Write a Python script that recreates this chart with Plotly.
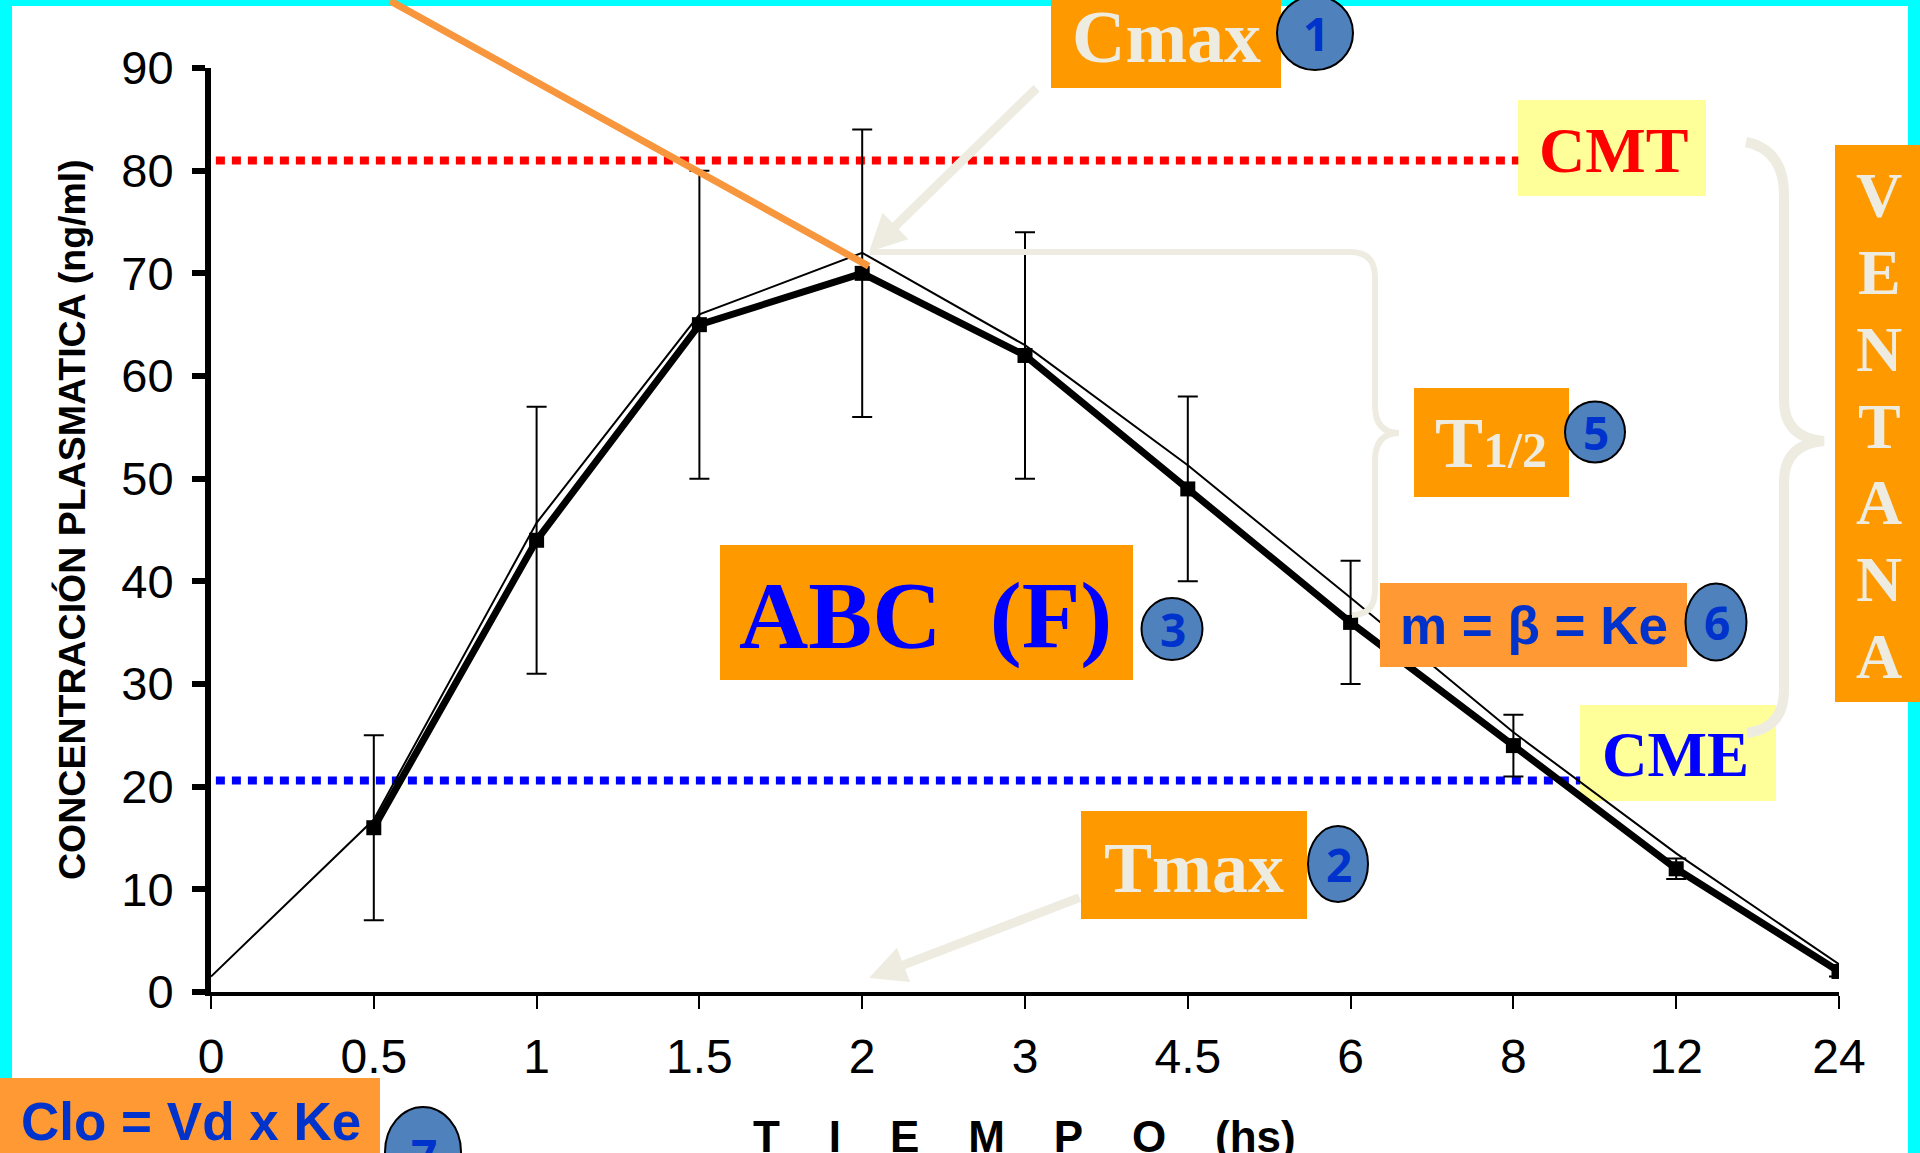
import plotly.graph_objects as go

# ---------------- data ----------------
tiempo_hs = ["0", "0.5", "1", "1.5", "2", "3", "4.5", "6", "8", "12", "24"]
conc_media = [16, 44, 65, 70, 62, 49, 36, 24, 12, 2]          # mean, from 0.5 h
conc_de = [9, 13, 15, 14, 12, 9, 6, 3, 1, 0.5]                 # error bars
conc_modelo = [1.5, 16.8, 45.7, 66.0, 72.0, 63.0, 51.3, 38.4, 25.3, 13.5, 2.7]
y_ticks = [0, 10, 20, 30, 40, 50, 60, 70, 80, 90]
CMT = 81      # concentración mínima tóxica
CME = 20.6    # concentración mínima eficaz
ventana_letras = ["V", "E", "N", "T", "A", "N", "A"]

pos = list(range(len(tiempo_hs)))
pos_media = pos[1:]

# ---------------- layout helpers ----------------
FW, FH = 1920, 1153
ML, MR, MT, MB = 211, 81, 68, 161
PW, PH = FW - ML - MR, FH - MT - MB


def px(x):
    return (x - ML) / PW


def py(y):
    return (FH - MB - y) / PH


def P(x, y):
    return f"{px(x):.5f},{py(y):.5f}"


ORANGE = "#FF9900"
ORANGE2 = "#FF9933"
YELLOW = "#FFFF99"
CREAM = "#EEECE1"
NUMBLUE = "#0033CC"
SERIF = "Liberation Serif"
SANS = "Liberation Sans"

fig = go.Figure()

fig.add_trace(go.Scatter(
    x=pos_media, y=conc_media, mode="lines+markers",
    line=dict(color="black", width=7),
    marker=dict(symbol="square", size=15, color="black"),
    error_y=dict(type="data", array=conc_de, visible=True, color="black",
                 thickness=2, width=10),
    showlegend=False, hoverinfo="skip"))

fig.add_trace(go.Scatter(
    x=pos, y=conc_modelo, mode="lines",
    line=dict(color="black", width=2),
    showlegend=False, hoverinfo="skip"))

shapes = []
# white page on cyan background
shapes.append(dict(type="rect", xref="paper", yref="paper",
                   x0=px(12), x1=px(1908), y0=py(1170), y1=py(6),
                   fillcolor="white", line=dict(width=0), layer="below"))
# CMT / CME dotted lines
shapes.append(dict(type="line", xref="x", yref="y", x0=0.03, x1=8.03,
                   y0=CMT, y1=CMT,
                   line=dict(color="#FF0000", width=8, dash="9px,7px"), layer="below"))
shapes.append(dict(type="line", xref="x", yref="y", x0=0.03, x1=8.41,
                   y0=CME, y1=CME,
                   line=dict(color="#0000FF", width=8, dash="9px,7px"), layer="below"))


def rect(x0, y0, x1, y1, color, layer="above"):
    shapes.append(dict(type="rect", xref="paper", yref="paper",
                       x0=px(x0), x1=px(x1), y0=py(y1), y1=py(y0),
                       fillcolor=color, line=dict(width=0), layer=layer))


rect(1518, 100, 1706, 196, YELLOW, "below")   # CMT
rect(1580, 705, 1776, 801, YELLOW, "below")   # CME
rect(1051, -16, 1281, 88, ORANGE)              # Cmax
rect(1414, 388, 1569, 497, ORANGE)             # T1/2
rect(720, 545, 1133, 680, ORANGE)              # ABC
rect(1380, 583, 1687, 667, ORANGE2)            # m = b = Ke
rect(1081, 811, 1307, 919, ORANGE)             # Tmax
rect(0, 1078, 380, 1175, ORANGE2)              # Clo
rect(1835, 145, 1930, 702, ORANGE)             # VENTANA

# braces
small_brace = ("M" + P(870, 252) + " L" + P(1350, 252) + " Q" + P(1375, 252) + " " + P(1375, 277)
               + " L" + P(1375, 405) + " Q" + P(1375, 433) + " " + P(1399, 433)
               + " Q" + P(1375, 433) + " " + P(1375, 461) + " L" + P(1375, 590)
               + " Q" + P(1375, 615) + " " + P(1352, 615))
shapes.append(dict(type="path", xref="paper", yref="paper", path=small_brace,
                   line=dict(color=CREAM, width=6), layer="above"))
big_brace = ("M" + P(1746, 142) + " Q" + P(1784, 150) + " " + P(1784, 195)
             + " L" + P(1784, 400) + " Q" + P(1784, 438) + " " + P(1824, 441)
             + " Q" + P(1784, 444) + " " + P(1784, 482) + " L" + P(1784, 690)
             + " Q" + P(1784, 728) + " " + P(1747, 733))
shapes.append(dict(type="path", xref="paper", yref="paper", path=big_brace,
                   line=dict(color=CREAM, width=10), layer="above"))

# numbered ellipses
circles = [("1", 1315, 33, 38, 37), ("2", 1338, 864, 30, 38), ("3", 1172, 629, 30.5, 31),
           ("5", 1595, 432, 30, 30.5), ("6", 1716, 622, 30.5, 38.5), ("7", 423, 1152, 38, 45)]
for _, cx, cy, rx, ry in circles:
    shapes.append(dict(type="circle", xref="paper", yref="paper",
                       x0=px(cx - rx), x1=px(cx + rx), y0=py(cy + ry), y1=py(cy - ry),
                       fillcolor="#4F81BD", line=dict(color="black", width=2), layer="above"))

ann = []


def text(cx, cy, t, size, color, family=SERIF, angle=0):
    ann.append(dict(xref="paper", yref="paper", x=px(cx), y=py(cy), text=t,
                    showarrow=False, xanchor="center", yanchor="middle",
                    textangle=angle,
                    font=dict(family=family, size=size, color=color)))


text(1166, 37, "<b>Cmax</b>", 74, CREAM)
text(1613, 150, "<b>CMT</b>", 64, "#FF0000")
text(1491, 443, "<b>T<span style='font-size:50px'>1/2</span></b>", 72, CREAM)
text(925, 615, "<b>ABC&nbsp;&nbsp;(F)</b>", 96, "#0000FF")
text(1534, 625, "<b>m = β = Ke</b>", 53, NUMBLUE, SANS)
text(1675, 755, "<b>CME</b>", 63, "#0000FF")
text(1194, 868, "<b>Tmax</b>", 72, CREAM)
text(191, 1121, "<b>Clo = Vd x Ke</b>", 53, NUMBLUE, SANS)
for k, letra in enumerate(ventana_letras):
    text(1879, 196 + k * 76.7, f"<b>{letra}</b>", 64, CREAM)
for num, cx, cy, rx, ry in circles:
    dy = 3 if num == "7" else 0
    text(cx + 1, cy + dy, f"<b>{num}</b>", 46, NUMBLUE, "Open Sans")

# axis titles
text(72, 520, "<b>CONCENTRACIÓN PLASMATICA (ng/ml)</b>", 37.5, "black", SANS, -90)
sp = "&nbsp;" * 4
text(1024, 1136, "<b>" + sp.join(["T", "I", "E", "M", "P", "O", "(hs)"]) + "</b>", 44, "black", SANS)

# tangent line and arrows (tips anchored to data coordinates)
ann.append(dict(xref="x", yref="y", x=4.04, y=70.7, ax=-480, ay=-275, text=" ",
                showarrow=True, arrowhead=0, arrowwidth=7, arrowcolor="#F7963C",
                standoff=0, font=dict(size=1)))
ann.append(dict(xref="x", yref="y", x=4.042, y=72.1, ax=169, ay=-165, text=" ",
                showarrow=True, arrowhead=2, arrowsize=0.82, arrowwidth=9,
                arrowcolor=CREAM, standoff=0, font=dict(size=1)))
ann.append(dict(xref="x", yref="y", x=4.042, y=1.36, ax=212, ay=-81, text=" ",
                showarrow=True, arrowhead=2, arrowsize=0.82, arrowwidth=9,
                arrowcolor=CREAM, standoff=0, font=dict(size=1)))

fig.update_layout(
    width=FW, height=FH,
    margin=dict(l=ML, r=MR, t=MT, b=MB, autoexpand=False),
    paper_bgcolor="#00FFFF", plot_bgcolor="rgba(0,0,0,0)",
    font=dict(family=SANS, color="black"),
    shapes=shapes, annotations=ann, showlegend=False,
    xaxis=dict(range=[0, 10], tickmode="array", tickvals=pos, ticktext=tiempo_hs,
               showline=True, linecolor="black", linewidth=4,
               ticks="outside", ticklen=13, tickwidth=2, tickcolor="black",
               ticklabelstandoff=6,
               tickfont=dict(family=SANS, size=48, color="black"),
               showgrid=False, zeroline=False, automargin=False, fixedrange=True),
    yaxis=dict(range=[0, 90], tickmode="array", tickvals=y_ticks,
               showline=True, linecolor="black", linewidth=6,
               ticks="outside", ticklen=13, tickwidth=6, tickcolor="black",
               ticklabelstandoff=9,
               tickfont=dict(family=SANS, size=47, color="black"),
               showgrid=False, zeroline=False, automargin=False, fixedrange=True),
)

fig.write_html("out.html",
               config={"displayModeBar": False, "staticPlot": True},
               post_script="document.body.style.margin='0px';document.body.style.overflow='hidden';")
